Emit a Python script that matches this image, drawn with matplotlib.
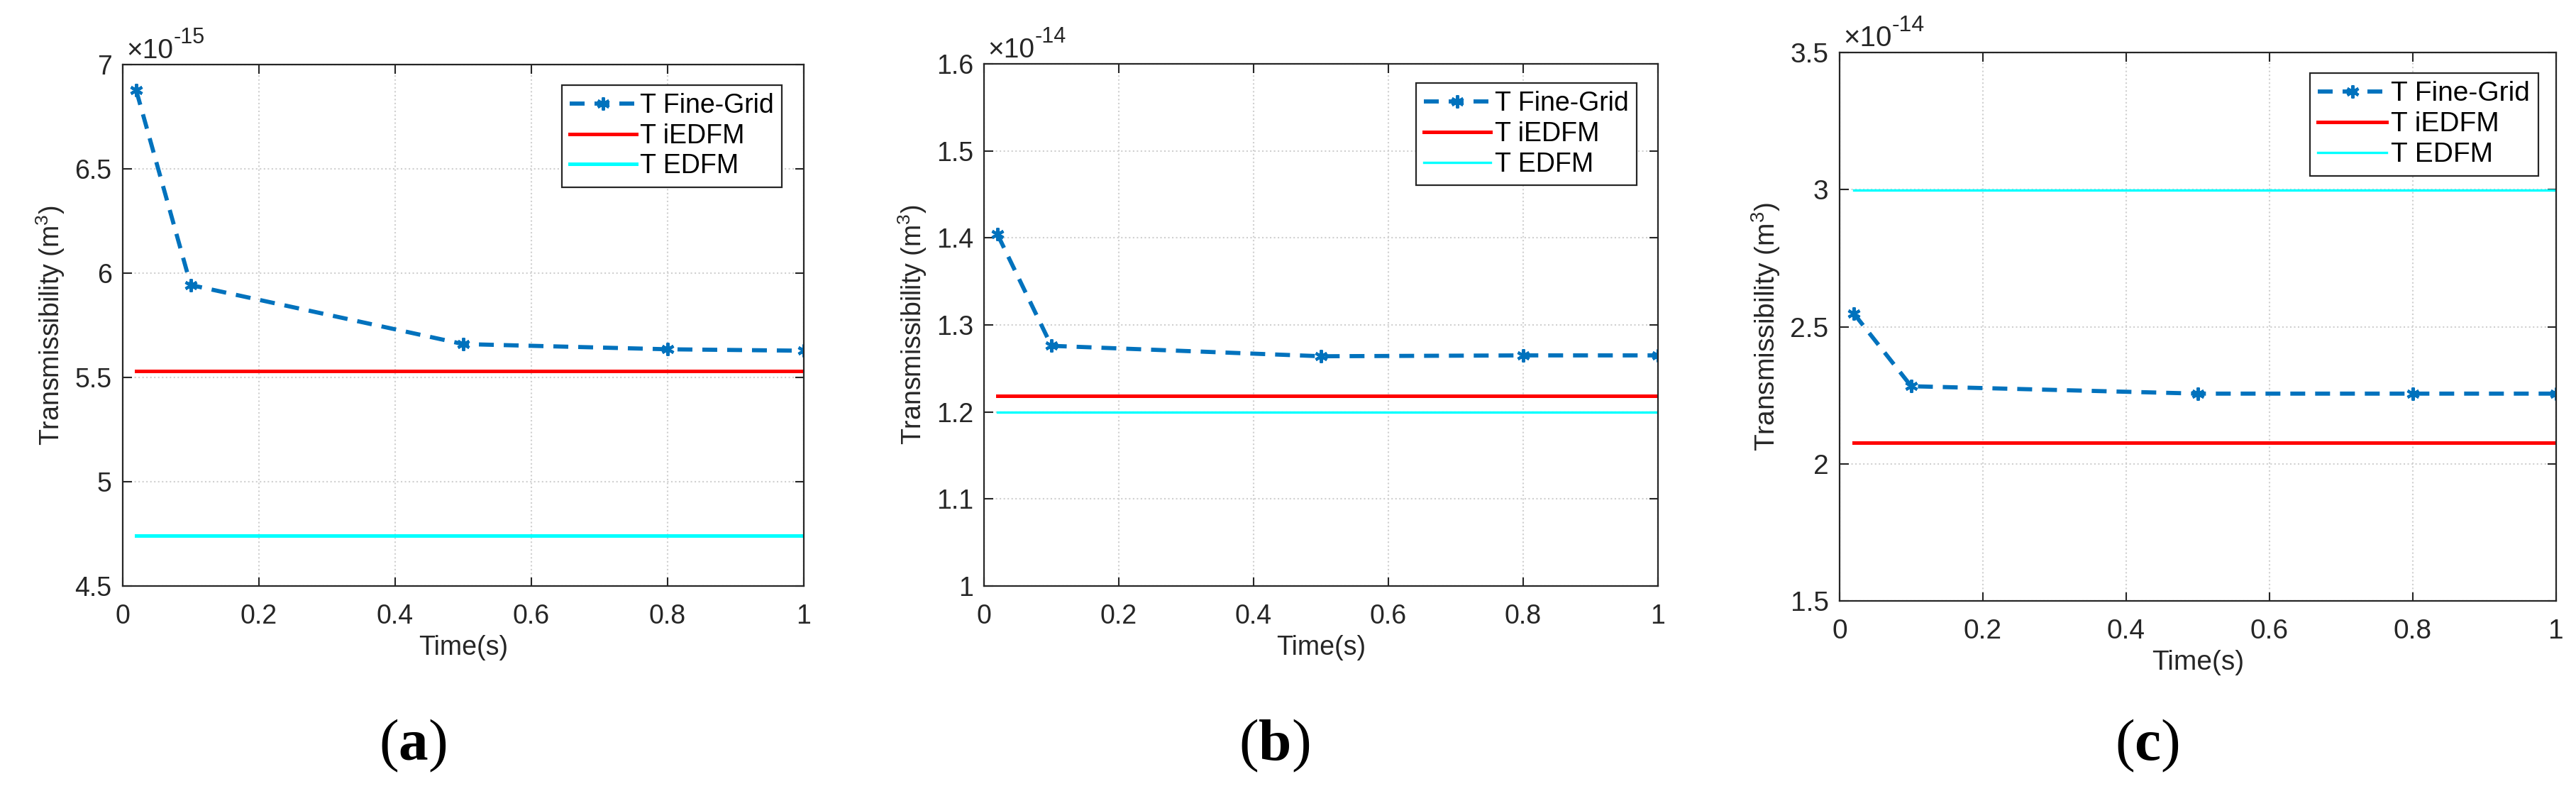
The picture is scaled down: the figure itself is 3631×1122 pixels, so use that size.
import numpy as np
import matplotlib.pyplot as plt
from matplotlib.ticker import FuncFormatter, MultipleLocator

plt.rcParams['font.family'] = ['Liberation Sans', 'DejaVu Sans']
plt.rcParams['mathtext.fontset'] = 'custom'
plt.rcParams['mathtext.rm'] = 'Liberation Sans'
plt.rcParams['mathtext.bf'] = 'Liberation Serif:bold'

# time points of the fine-grid runs
time = [0.02, 0.1, 0.5, 0.8, 1.0]

# panel (a), values in m^3
fine_a = [6.876e-15, 5.943e-15, 5.660e-15, 5.635e-15, 5.628e-15]
iedfm_a = 5.532e-15
edfm_a = 4.742e-15

# panel (b)
fine_b = [1.404e-14, 1.276e-14, 1.264e-14, 1.265e-14, 1.265e-14]
iedfm_b = 1.2186e-14
edfm_b = 1.200e-14

# panel (c)
fine_c = [2.548e-14, 2.283e-14, 2.256e-14, 2.256e-14, 2.256e-14]
iedfm_c = 2.076e-14
edfm_c = 2.998e-14

ylims = [(4.5e-15, 7e-15), (1.0e-14, 1.6e-14), (1.5e-14, 3.5e-14)]
ysteps = [0.5e-15, 0.1e-14, 0.5e-14]
exps = [-15, -14, -14]
letters = ['a', 'b', 'c']
legend_names = ['T Fine-Grid', 'T iEDFM', 'T EDFM']

blue = '#0072BD'
dark = '#262626'

fig = plt.figure(figsize=(36.31, 11.22), dpi=100)
# [left, bottom, width, height] of each panel
boxes = [[0.0476, 0.2638, 0.2644, 0.6551],
         [0.3820, 0.2638, 0.2616, 0.6560],
         [0.7141, 0.2451, 0.2782, 0.6889]]
legend_xy = [(0.968, 0.961), (0.968, 0.963), (0.975, 0.963)]
caption_x = [0.1603, 0.4946, 0.8334]
fs = [27, 27, 28]
cyan_lw = [3.6, 2.4, 2.4]

panels = [(fine_a, iedfm_a, edfm_a), (fine_b, iedfm_b, edfm_b), (fine_c, iedfm_c, edfm_c)]

for i, (fine, iedfm, edfm) in enumerate(panels):
    ax = fig.add_axes(boxes[i])
    ax.plot(time, fine, color=blue, lw=4.2, dashes=(3.6, 2.4),
            marker=(6, 2, 0), markersize=13, markeredgewidth=3,
            label=legend_names[0])
    ax.plot([time[0], time[-1]], [iedfm, iedfm], color='red', lw=3.6,
            label=legend_names[1])
    ax.plot([time[0], time[-1]], [edfm, edfm], color='cyan', lw=cyan_lw[i],
            label=legend_names[2])

    ax.set_xlim(0, 1)
    ax.set_ylim(*ylims[i])
    ax.xaxis.set_major_locator(MultipleLocator(0.2))
    ax.yaxis.set_major_locator(MultipleLocator(ysteps[i]))
    ax.xaxis.set_major_formatter(FuncFormatter(lambda v, p: f'{round(v, 3):g}'))
    scale = 10.0 ** exps[i]
    ax.yaxis.set_major_formatter(FuncFormatter(lambda v, p, s=scale: f'{round(v / s, 3):g}'))

    ax.grid(True, linestyle=':', color='#d0d0d0', lw=1.5)
    ax.tick_params(direction='in', top=True, right=True, length=9, width=1.5,
                   colors=dark, labelsize=fs[i])
    ax.tick_params(axis='y', pad=11)
    ax.tick_params(axis='x', pad=18)
    for sp in ax.spines.values():
        sp.set_linewidth(1.6)
        sp.set_color(dark)

    ax.set_xlabel('Time(s)', fontsize=fs[i], color=dark, labelpad=6)
    ax.set_ylabel('Transmissibility (m$^3$)', fontsize=fs[i], color=dark, labelpad=8)

    # MATLAB style exponent label above the y axis
    left, bottom, width, height = boxes[i]
    top = bottom + height
    base = fig.text(left + 0.0015, top + 0.008, '×10', fontsize=fs[i] + 1,
                    color=dark, ha='left', va='baseline')
    fig.canvas.draw()
    bb = base.get_window_extent().transformed(fig.transFigure.inverted())
    fig.text(bb.x1, top + 0.027, str(exps[i]), fontsize=fs[i] - 5,
             color=dark, ha='left', va='baseline')

    leg = ax.legend(loc='upper right', bbox_to_anchor=legend_xy[i], borderaxespad=0,
                    fontsize=fs[i], handlelength=2.5, handletextpad=0.15,
                    labelspacing=0.18, borderpad=0.3, fancybox=False, framealpha=1)
    leg.get_frame().set_edgecolor(dark)
    leg.get_frame().set_linewidth(1.6)

    fig.text(caption_x[i], 0.063, r'($\mathbf{%s}$)' % letters[i], fontsize=60,
             family='Liberation Serif', ha='center', va='center')

fig.savefig('out.png', dpi=100)
